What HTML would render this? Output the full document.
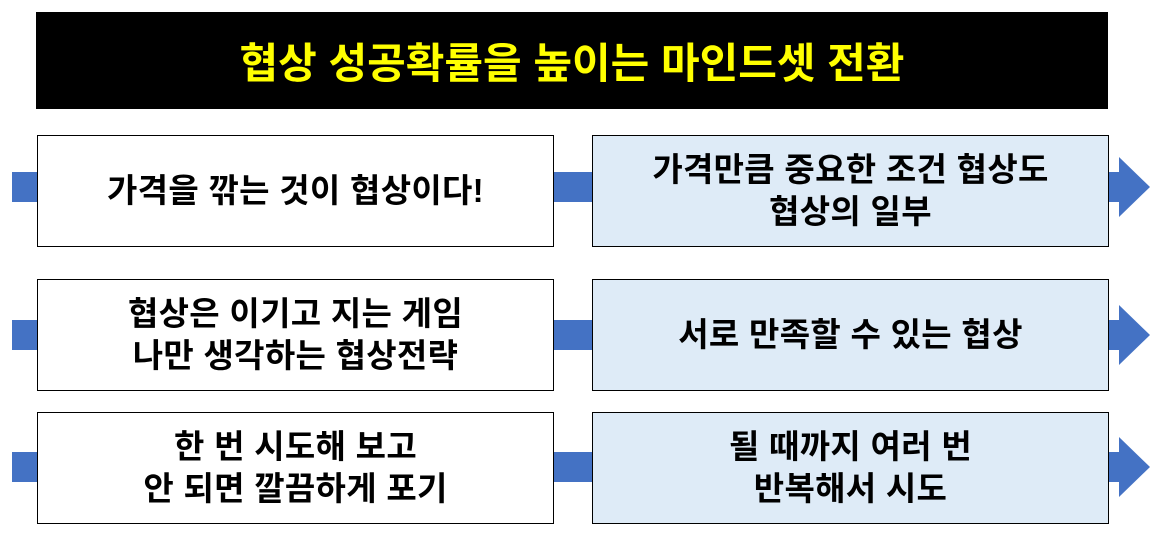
<!DOCTYPE html>
<html><head><meta charset="utf-8"><style>
body{margin:0;width:1157px;height:534px;background:#fff;position:relative;overflow:hidden;font-family:"Liberation Sans","Noto Sans CJK KR","NanumGothic",sans-serif;}
.t{position:absolute;left:36px;top:12px;width:1072px;height:97px;background:#000;color:#ffff00;font-weight:bold;font-size:42px;letter-spacing:0px;display:flex;align-items:center;justify-content:center;}
.band{position:absolute;left:12px;width:1110px;height:30px;background:#4472c4;}
.head{position:absolute;left:1119px;width:0;height:0;border-top:30px solid transparent;border-bottom:30px solid transparent;border-left:31px solid #4472c4;}
.b{position:absolute;width:517px;height:112px;border:1.5px solid #000;box-sizing:border-box;background:#fff;display:flex;align-items:center;justify-content:center;text-align:center;font-weight:bold;font-size:33px;letter-spacing:0.3px;line-height:42px;color:#000;}
.r{background:#deebf7;}
</style></head><body>
<div class="t">협상 성공확률을 높이는 마인드셋 전환</div>

<div class="band" style="top:172px"></div><div class="head" style="top:157px"></div>
<div class="band" style="top:320px"></div><div class="head" style="top:305px"></div>
<div class="band" style="top:452px"></div><div class="head" style="top:437px"></div>

<div class="b" style="left:37px;top:135px">가격을 깎는 것이 협상이다!</div>
<div class="b r" style="left:592px;top:135px">가격만큼 중요한 조건 협상도<br>협상의 일부</div>
<div class="b" style="left:37px;top:279px">협상은 이기고 지는 게임<br>나만 생각하는 협상전략</div>
<div class="b r" style="left:592px;top:279px">서로 만족할 수 있는 협상</div>
<div class="b" style="left:37px;top:412px">한 번 시도해 보고<br>안 되면 깔끔하게 포기</div>
<div class="b r" style="left:592px;top:412px">될 때까지 여러 번<br>반복해서 시도</div>
</body></html>
